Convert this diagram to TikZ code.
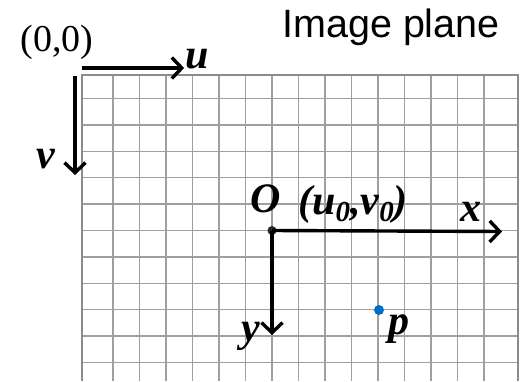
\documentclass[tikz,border=0pt]{standalone}
\usepackage{fontspec}
\setmainfont{Liberation Serif}
\newfontfamily\planefont{Liberation Sans}
\usetikzlibrary{arrows.meta, positioning}
\tikzstyle{gridline} = [draw=gray!75, line width=1.3pt]
\tikzstyle{edgeline} = [draw=gray!90, line width=2.4pt]
\tikzstyle{axis} = [line width=3.4pt, -{Straight Barb[length=10pt, width=21pt, line width=3.4pt]}]
\tikzstyle{axislabel} = [inner sep=1pt, font=\fontsize{42}{44}\selectfont\bfseries\itshape]
\tikzstyle{dot} = [circle, fill=black!85, inner sep=0pt, minimum size=9pt]
\newcommand{\subzero}{\raisebox{-7pt}{\fontsize{29}{31}\selectfont 0}}

\begin{document}
\begin{tikzpicture}[x=1pt, y=-1pt]
  \useasboundingbox (0,0) rectangle (523,381);
  % pixel grid
  \foreach \k in {0,...,10} \draw [gridline] (82,98.5+26.4*\k) -- (518,98.5+26.4*\k);
  \foreach \k in {0,...,14} \draw [gridline] (113+26.5*\k,75) -- (113+26.5*\k,381);
  \draw [edgeline] (82,381) -- (82,75) -- (518,75) -- (518,381);

  \node (title) at (391,27) {\planefont\fontsize{39.5}{42}\selectfont Image plane};
  \node (corner) at (57,42) {\fontsize{38}{40}\selectfont (0,0)};

  % image coordinates u, v
  \coordinate (ustart) at (82,68);
  \node (ulabel) [axislabel] at (197,59) {u};
  \draw [axis] (ustart) -- (ustart -| ulabel.west);
  \coordinate (vstart) at (75,76);
  \coordinate (vend) at (75,175);
  \node (vlabel) [axislabel] at (46,159) {v};
  \draw [axis] (vstart) -- (vend);

  % camera coordinates x, y
  \node (O) [dot] at (272,230.5) {};
  \node (Olabel) [axislabel] at (266,199) {O};
  \node (uv) [axislabel] at (353,204) {(u\subzero,v\subzero)};
  \coordinate (xend) at (502,231.5);
  \node (xlabel) [axislabel] at (471,212) {x};
  \coordinate (yend) at (272,335);
  \node (ylabel) [axislabel] at (251,336) {y};
  \draw [axis] (O.center) -- (xend);
  \draw [axis] (O.center) -- (yend);

  \node (p) [dot, minimum size=10pt, fill={rgb,255:red,0;green,110;blue,200}] at (379,310) {};
  \node (plabel) [axislabel] at (399,329) {p};
\end{tikzpicture}
\end{document}
